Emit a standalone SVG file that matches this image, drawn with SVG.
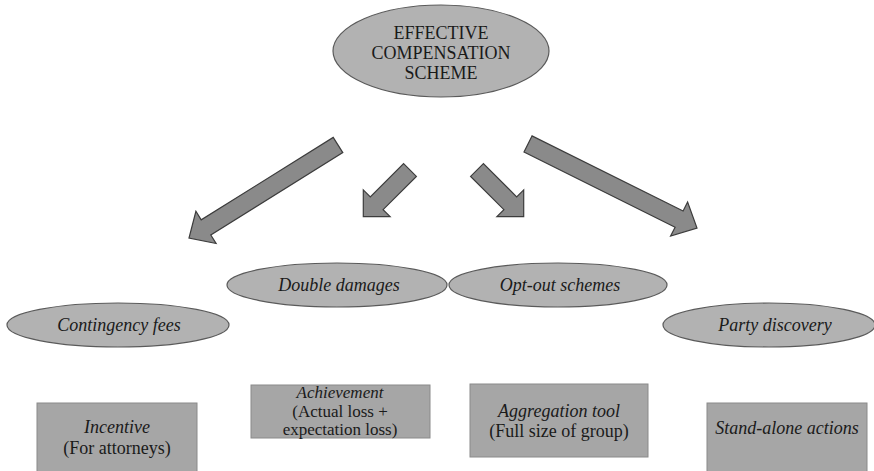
<svg xmlns="http://www.w3.org/2000/svg" width="874" height="471" viewBox="0 0 874 471" font-family="Liberation Serif, Times New Roman, DejaVu Serif, serif">
<style>
  .bg { fill: #ffffff; }
  .oval { fill: #b2b2b2; stroke: #5a5a5a; stroke-width: 1.2; }
  .box { fill: #a6a6a6; stroke: #8a8a8a; stroke-width: 1; }
  .arrow { fill: #8a8a8a; stroke: #3c3c3c; stroke-width: 1.2; stroke-linejoin: miter; }
  text { font-family: "Liberation Serif", "Times New Roman", Times, "DejaVu Serif", serif; }
  .t { font-size: 18px; fill: #1a1a1a; text-anchor: middle; }
  .s { font-size: 17px; }
  .i { font-style: italic; }
</style>
<rect class="bg" x="0" y="0" width="874" height="471"/>

<g id="connectors">
  <polygon class="arrow" points="333.2,137.4 342.8,152.6 210.8,235.0 216.1,243.5 189,238 195.9,211.3 201.2,219.8"/>
  <polygon class="arrow" points="403.6,163.6 416.4,176.4 383.1,209.7 390.1,216.7 363.3,216.7 363.3,189.9 370.3,196.9"/>
  <polygon class="arrow" points="483.4,163.6 470.6,176.4 503.9,209.7 496.9,216.7 523.7,216.7 523.7,189.9 516.7,196.9"/>
  <polygon class="arrow" points="532.0,135.9 524.0,152.1 675.1,227.2 670.6,236.1 697,228 687.6,202.1 683.1,211.0"/>
</g>

<g id="node-scheme">
  <ellipse class="oval" cx="441" cy="51" rx="108" ry="46"/>
  <text class="t" x="441" y="39">EFFECTIVE</text>
  <text class="t" x="441" y="59">COMPENSATION</text>
  <text class="t" x="441" y="79">SCHEME</text>
</g>

<g id="node-contingency">
  <ellipse class="oval" cx="118" cy="325" rx="111" ry="22"/>
  <text class="t i" x="119" y="331">Contingency fees</text>
</g>

<g id="node-double">
  <ellipse class="oval" cx="337" cy="285" rx="110" ry="22"/>
  <text class="t i" x="339" y="291">Double damages</text>
</g>

<g id="node-optout">
  <ellipse class="oval" cx="558" cy="285" rx="109" ry="22"/>
  <text class="t i" x="560" y="291">Opt-out schemes</text>
</g>

<g id="node-party">
  <ellipse class="oval" cx="769" cy="325" rx="106" ry="22"/>
  <text class="t i" x="775" y="331">Party discovery</text>
</g>

<g id="node-incentive">
  <rect class="box" x="37" y="403" width="160" height="75"/>
  <text class="t i" x="117" y="433">Incentive</text>
  <text class="t" x="117" y="454">(For attorneys)</text>
</g>

<g id="node-achievement">
  <rect class="box" x="251" y="385" width="179" height="53"/>
  <text class="t s i" x="340" y="398">Achievement</text>
  <text class="t s" x="340" y="417">(Actual loss +</text>
  <text class="t s" x="340" y="435">expectation loss)</text>
</g>

<g id="node-aggregation">
  <rect class="box" x="470" y="384" width="178" height="73"/>
  <text class="t i" x="559" y="417">Aggregation tool</text>
  <text class="t" x="559" y="437">(Full size of group)</text>
</g>

<g id="node-standalone">
  <rect class="box" x="707" y="403" width="160" height="75"/>
  <text class="t i" x="787" y="434">Stand-alone actions</text>
</g>
</svg>
